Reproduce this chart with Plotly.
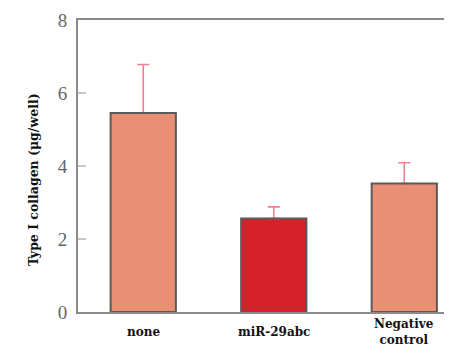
import plotly.graph_objects as go

categories = ["none", "miR-29abc", "Negative<br>control"]
values = [5.45, 2.56, 3.52]
err_upper = [1.33, 0.32, 0.57]
bar_colors = ["#E98F74", "#D6212B", "#E98F74"]
y_ticks = [0, 2, 4, 6, 8]
y_title = "Type I collagen (μg/well)"

xs = list(range(len(categories)))
fig = go.Figure()
fig.add_trace(go.Bar(
    x=xs, y=values, width=0.5,
    marker=dict(color=bar_colors, line=dict(width=0)),
    error_y=dict(type="data", symmetric=False, array=err_upper,
                 arrayminus=[0] * len(values), color="#F0808F", thickness=1.6, width=6),
    showlegend=False,
))
fig.add_trace(go.Bar(
    x=xs, y=values, width=0.5,
    marker=dict(color="rgba(0,0,0,0)", line=dict(color="#5a5a5a", width=2)),
    showlegend=False, hoverinfo="skip",
))

for i, c in enumerate(categories):
    fig.add_annotation(x=i, xref="x", y=-0.068, yref="paper", text="<b>" + c + "</b>",
                       showarrow=False, yanchor="middle", borderpad=0,
                       font=dict(family="DejaVu Serif", size=12, color="#111111"))

fig.add_annotation(x=-0.118, xref="paper", y=0.455, yref="paper",
                   text="<b>" + y_title + "</b>", textangle=-90, showarrow=False,
                   xanchor="center", yanchor="middle",
                   font=dict(family="DejaVu Serif", size=12.5, color="#111111"))

fig.update_layout(
    width=452, height=347, barmode="overlay",
    margin=dict(l=70, r=0, t=12, b=43),
    plot_bgcolor="white", paper_bgcolor="white",
    xaxis=dict(range=[-0.5, 2.427], showticklabels=False, ticks="",
               showgrid=False, zeroline=False, showline=True, mirror=True,
               linecolor="#8a8a8a", linewidth=2),
    yaxis=dict(range=[0, 8], tickvals=y_ticks, ticks="inside", ticklen=8,
               tickcolor="#c8c8c8", tickwidth=1.5, showgrid=False, zeroline=False,
               showline=True, linecolor="#8a8a8a", linewidth=2,
               ticklabelstandoff=5,
               tickfont=dict(family="Liberation Serif", size=19, color="#666666")),
)

fig.write_html("out.html")
